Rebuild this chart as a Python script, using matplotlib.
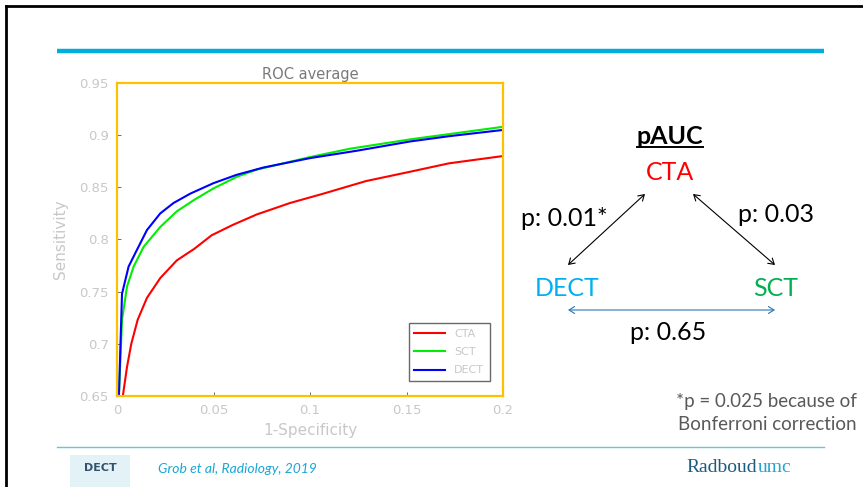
import matplotlib.pyplot as plt
from matplotlib.patches import FancyArrowPatch, Rectangle
import numpy as np

# ROC curves (1-specificity vs sensitivity)
fpr_dect = [0.001, 0.0026, 0.006, 0.0095, 0.0155, 0.0224, 0.0293, 0.038, 0.05, 0.062, 0.0759, 0.1, 0.124, 0.152, 0.172, 0.2]
tpr_dect = [0.651, 0.748, 0.774, 0.787, 0.809, 0.825, 0.835, 0.844, 0.854, 0.862, 0.869, 0.878, 0.885, 0.894, 0.899, 0.905]

fpr_sct = [0.001, 0.0026, 0.0052, 0.0086, 0.0138, 0.0224, 0.031, 0.040, 0.05, 0.062, 0.0724, 0.1, 0.1207, 0.152, 0.172, 0.2]
tpr_sct = [0.651, 0.723, 0.755, 0.774, 0.793, 0.812, 0.827, 0.838, 0.849, 0.860, 0.867, 0.879, 0.887, 0.896, 0.901, 0.908]

fpr_cta = [0.0031, 0.0052, 0.0074, 0.0107, 0.0155, 0.0224, 0.031, 0.040, 0.049, 0.060, 0.0724, 0.0897, 0.107, 0.129, 0.152, 0.172, 0.2]
tpr_cta = [0.651, 0.678, 0.700, 0.723, 0.744, 0.763, 0.780, 0.791, 0.804, 0.814, 0.824, 0.835, 0.844, 0.856, 0.865, 0.873, 0.880]

x_ticks = [0, 0.05, 0.1, 0.15, 0.2]
x_ticklabels = ["0", "0.05", "0.1", "0.15", "0.2"]
y_ticks = [0.65, 0.7, 0.75, 0.8, 0.85, 0.9, 0.95]
y_ticklabels = ["0.65", "0.7", "0.75", "0.8", "0.85", "0.9", "0.95"]

W, H = 863, 487
fig = plt.figure(figsize=(W/100, H/100), dpi=100)

# slide layer in pixel coordinates
bg = fig.add_axes([0, 0, 1, 1])
bg.set_xlim(0, W)
bg.set_ylim(H, 0)
bg.axis("off")

# slide frame and rules
bg.plot([6, W], [6, 6], color="black", linewidth=2)
bg.plot([6, 6], [6, H], color="black", linewidth=2)
bg.plot([57, 824], [50.5, 50.5], color="#00AEDB", linewidth=3.2, solid_capstyle="butt")
bg.plot([57, 824], [447, 447], color="#62C6E0", linewidth=1)

# ROC plot
ax = fig.add_axes([117/W, 1 - 396/H, (503-117)/W, (396-83)/H])
ax.plot(fpr_cta, tpr_cta, color="red", linewidth=1.5, label="CTA")
ax.plot(fpr_sct, tpr_sct, color="#00EE00", linewidth=1.5, label="SCT")
ax.plot(fpr_dect, tpr_dect, color="blue", linewidth=1.5, label="DECT")
ax.set_xlim(0, 0.2)
ax.set_ylim(0.65, 0.95)
ax.set_xticks(x_ticks)
ax.set_xticklabels(x_ticklabels)
ax.set_yticks(y_ticks)
ax.set_yticklabels(y_ticklabels)
ax.tick_params(direction="in", length=3, width=0.6, color="#555555",
               labelsize=9.5, labelcolor="#c8c8c8", pad=6)
for s in ax.spines.values():
    s.set_color("#FFC000")
    s.set_linewidth(1.6)
ax.set_title("ROC average", fontsize=10.5, color="#7a7a7a", pad=3)
ax.set_xlabel("1-Specificity", fontsize=11, color="#c8c8c8", labelpad=4)
ax.set_ylabel("Sensitivity", fontsize=11, color="#c8c8c8", labelpad=8)
leg = ax.legend(loc="lower right", fontsize=8, frameon=True, fancybox=False,
                handlelength=2.8, borderpad=0.5, labelspacing=0.75,
                bbox_to_anchor=(0.98, 0.03))
leg.get_frame().set_edgecolor("#444444")
leg.get_frame().set_linewidth(1.0)
for t in leg.get_texts():
    t.set_color("#c8c8c8")

# pAUC comparison diagram
font = ["Lato", "DejaVu Sans"]
fs = 18
bg.text(670, 137, "pAUC", fontsize=fs, fontweight="bold", ha="center", va="center", family=font)
bg.plot([637, 703], [147, 147], color="black", linewidth=1.4)
bg.text(670, 172, "CTA", fontsize=fs, color="#FF0000", ha="center", va="center", family=font)
bg.text(567, 289, "DECT", fontsize=fs, color="#00B0F0", ha="center", va="center", family=font)
bg.text(776, 289, "SCT", fontsize=fs, color="#00B050", ha="center", va="center", family=font)
bg.text(564, 218, "p: 0.01*", fontsize=fs, ha="center", va="center", family=font)
bg.text(776, 214, "p: 0.03", fontsize=fs, ha="center", va="center", family=font)
bg.text(668, 332, "p: 0.65", fontsize=fs, ha="center", va="center", family=font)

for (x0, y0, x1, y1, c) in [(645, 194, 568, 265, "black"),
                            (693, 194, 775, 265, "black"),
                            (568, 310, 775, 310, "#2E75B6")]:
    bg.add_patch(FancyArrowPatch((x0, y0), (x1, y1), arrowstyle="<->,head_length=4,head_width=2.5",
                                 color=c, linewidth=0.8, shrinkA=0, shrinkB=0))

bg.text(857, 402, "*p = 0.025 because of", fontsize=13.5, color="#595959", ha="right", va="center", family=font)
bg.text(857, 425, "Bonferroni correction", fontsize=13.5, color="#595959", ha="right", va="center", family=font)

# footer
bg.add_patch(Rectangle((70, 455), 60, 32, facecolor="#e3f2f6", edgecolor="none"))
bg.text(100, 468, "DECT", fontsize=8, fontweight="bold", color="#34506b", ha="center", va="center")
bg.text(158, 469, "Grob et al, Radiology, 2019", fontsize=10, style="italic", color="#1AA6D6",
        ha="left", va="center", family=font)
rad = bg.text(686, 468, "Radboud", fontsize=14, color="#1A5C7E", ha="left", va="center", family="Liberation Serif")
fig.canvas.draw()
bb = rad.get_window_extent().transformed(bg.transData.inverted())
bg.text(bb.x1 + 1, 468, "umc", fontsize=14, color="#21A4CF", ha="left", va="center", family="Liberation Serif")

fig.savefig("out.png", dpi=100, facecolor="white")
